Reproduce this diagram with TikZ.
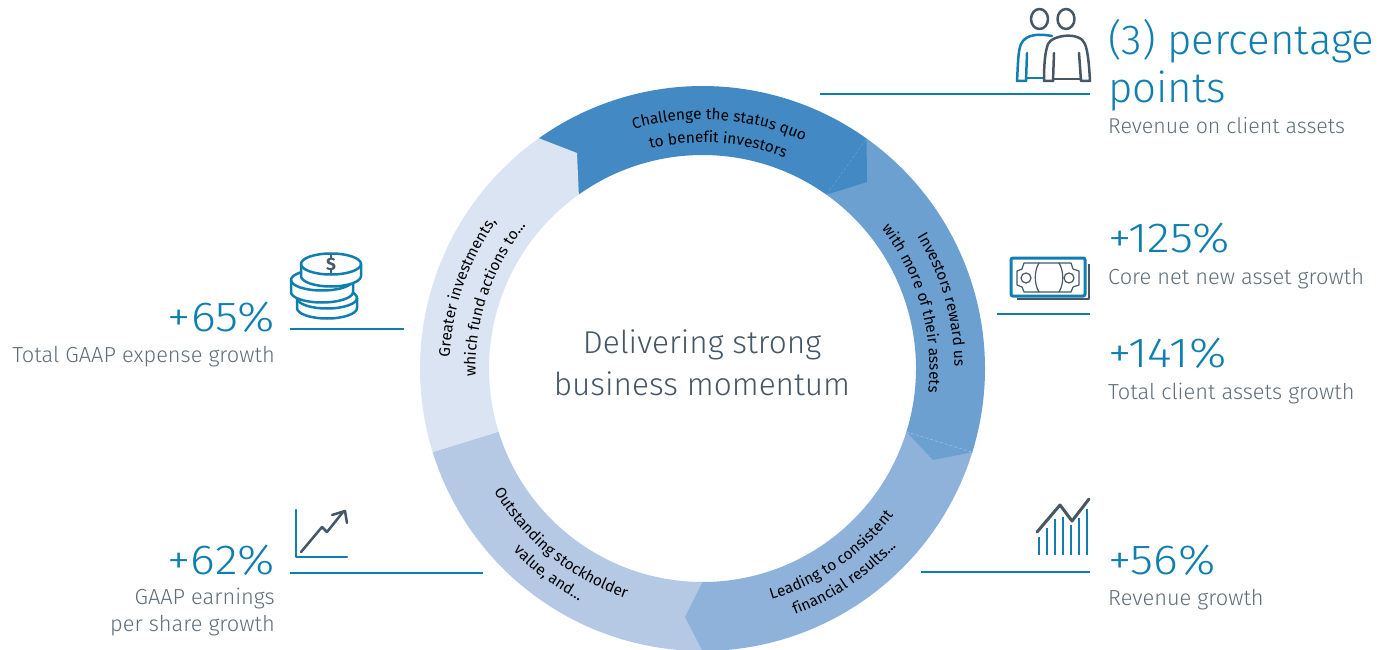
\documentclass[tikz,border=0pt]{standalone}
\usepackage{fontspec}
\setmainfont{Fira Sans Light}[BoldFont={Fira Sans}]
\newfontfamily\ringfont{Fira Sans}
\newfontfamily\numfont{Fira Sans Light}[FakeStretch=1.12]
\usetikzlibrary{decorations.text}
\definecolor{teal1}{HTML}{0F7FB0}
\definecolor{slate1}{HTML}{465766}
\definecolor{gray1}{HTML}{5F6E79}
\definecolor{segA}{HTML}{4389C3}
\definecolor{segB}{HTML}{6BA0D1}
\definecolor{segC}{HTML}{8FB2DA}
\definecolor{segD}{HTML}{B5C9E5}
\definecolor{segE}{HTML}{DBE4F3}
\tikzset{
  bignum/.style={text=teal1,font=\fontsize{42}{46}\selectfont,inner sep=0pt,anchor=base west},
  pctnum/.style={bignum,font=\numfont\fontsize{42}{46}\selectfont},
  pctnumr/.style={pctnum,anchor=base east},
  sublab/.style={text=gray1,font=\fontsize{21.8}{26}\selectfont,inner sep=0pt,anchor=base west},
  sublabr/.style={sublab,anchor=base east},
  rule/.style={draw=teal1,line width=2.5pt},
  iconb/.style={draw=teal1,line width=2.5pt,line join=round,line cap=round},
  icond/.style={draw=slate1,line width=2.5pt,line join=round,line cap=round},
  ringtext/.style={decorate,decoration={text along path,text align=center,text={|\ringfont\fontsize{15.4}{17}\selectfont|#1}}},
  seam/.style={draw=white,draw opacity=.2,line width=.5pt,densely dashed}
}
\begin{document}
\begin{tikzpicture}[x=1pt,y=1pt]
\useasboundingbox (0,0) rectangle (1388,649);
\fill[white] (0,0) rectangle (1388,649);
% ring
\begin{scope}[shift={(702.5,280.5)}]
\def\Ro{282.5}\def\Ri{213.5}
\fill[segD] (-90:\Ro) arc[start angle=-90,end angle=-162.8,radius=\Ro] -- (197.2:\Ri) arc[start angle=-162.8,end angle=-90,radius=\Ri] -- cycle;
\fill[segC] (-17.25:\Ro) arc[start angle=-17.25,end angle=-90,radius=\Ro] -- (-17.5,-248.5) -- (-90:\Ri) arc[start angle=-90,end angle=-17.25,radius=\Ri] -- cycle;
\fill[segB] (54.5:\Ro) arc[start angle=54.5,end angle=-17.25,radius=\Ro] -- (230.5,-91.5) -- (-17.25:\Ri) arc[start angle=-17.25,end angle=54.5,radius=\Ri] -- cycle;
\fill[segA] (125.4:\Ro) arc[start angle=125.4,end angle=54.5,radius=\Ro] -- (164.5,186.5) -- (54.5:\Ri) arc[start angle=54.5,end angle=125.4,radius=\Ri] -- cycle;
\fill[segE] (197.2:\Ro) arc[start angle=197.2,end angle=125.4,radius=\Ro] -- (-125.5,215.5) -- (125.4:\Ri) arc[start angle=125.4,end angle=197.2,radius=\Ri] -- cycle;
\draw[seam] (54.5:\Ri) -- (54.5:\Ro);
\draw[seam,draw opacity=.4] (-17.25:\Ri) -- (-17.25:\Ro);
% curved texts
\path[ringtext={Challenge the status quo}] (110:249) arc[start angle=110,end angle=62,radius=249];
\path[ringtext={to benefit investors}] (110:226) arc[start angle=110,end angle=62,radius=226];
\path[ringtext={Investors reward us}] (50:252) arc[start angle=50,end angle=-18,radius=252];
\path[ringtext={with more of their assets}] (52:227) arc[start angle=52,end angle=-20,radius=227];
\path[ringtext={Leading to consistent}] (-90.5:241) arc[start angle=-90.5,end angle=-20.5,radius=241];
\path[ringtext={financial results...}] (-91:263) arc[start angle=-91,end angle=-21,radius=263];
\path[ringtext={Outstanding stockholder}] (195:242) arc[start angle=195,end angle=267,radius=242];
\path[ringtext={value, and...}] (198:263) arc[start angle=198,end angle=268,radius=263];
\path[ringtext={Greater investments,}] (196:253) arc[start angle=196,end angle=126,radius=253];
\path[ringtext={which fund actions to...}] (196.5:227) arc[start angle=196.5,end angle=126.5,radius=227];
\end{scope}
% centre
\node[text=slate1,font=\fontsize{31.6}{42}\selectfont,align=center,inner sep=0pt,anchor=base] (ctitle) at (702,295.5) {Delivering strong};
\node[text=slate1,font=\fontsize{31.6}{42}\selectfont,align=center,inner sep=0pt,anchor=base] (ctitleb) at (702,254) {business momentum};
% right labels
\node[bignum] (n3) at (1108,594) {(3) percentage};
\node[bignum] (n3b) at (1108,546) {points};
\node[sublab,font=\fontsize{21.4}{26}\selectfont] (s3) at (1108,515) {Revenue on client assets};
\node[pctnum] (n125) at (1108,397) {+125\%};
\node[sublab] (s125) at (1108,365) {Core net new asset growth};
\node[pctnum] (n141) at (1108,282) {+141\%};
\node[sublab] (s141) at (1108,250) {Total client assets growth};
\node[pctnum] (n56) at (1108,75) {+56\%};
\node[sublab] (s56) at (1108,44) {Revenue growth};
% left labels
\node[pctnumr] (n65) at (275,318) {+65\%};
\node[sublabr] (s65) at (275,287) {Total GAAP expense growth};
\node[pctnumr] (n62) at (275,75) {+62\%};
\node[sublabr] (s62) at (275,45) {GAAP earnings};
\node[sublabr] (s62b) at (275,18) {per share growth};
% rules
\coordinate (ra1) at (820,555); \coordinate (ra2) at (1090,555);
\coordinate (rb1) at (997,335); \coordinate (rb2) at (1090,335);
\coordinate (rc1) at (290,320); \coordinate (rc2) at (404,320);
\coordinate (rd1) at (290,76); \coordinate (rd2) at (483,76);
\coordinate (re1) at (921,77); \coordinate (re2) at (1090,77);
\draw[rule] (ra1) -- (ra2);
\draw[rule] (rb1) -- (rb2);
\draw[rule] (rc1) -- (rc2);
\draw[rule] (rd1) -- (rd2);
\draw[rule] (re1) -- (re2);
% people icon (y = 649 - py)
\draw[iconb] (1052,613) .. controls (1042,615) and (1026,616) .. (1021,605) .. controls (1018,598) and (1018,585) .. (1017,568) -- (1026,568) -- (1027,596);
\draw[iconb] (1026,571) -- (1043,571);
\draw[icond] (1039.5,630) ellipse[x radius=8.5,y radius=10];
\draw[icond] (1066,630) ellipse[x radius=8.5,y radius=10];
\draw[icond] (1053,568) -- (1044,568) .. controls (1044,585) and (1045,597) .. (1048,605) .. controls (1052,614) and (1080,618) .. (1085,605) .. controls (1088,597) and (1089,585) .. (1090,568) -- (1081,568) -- (1079,596);
\draw[icond] (1053,568) -- (1054,596);
\draw[icond] (1053,570) -- (1081,570);
% money icon
\draw[icond,line width=2.4pt,line cap=butt] (1017,350) -- (1089,350) -- (1089,385);
\draw[draw=teal1,line width=3pt,rounded corners=2pt] (1011,353) rectangle (1085,391);
\draw[icond,line width=1.2pt] (1024,386) -- (1071,386) -- (1073,380) -- (1079,378) -- (1079,364) -- (1073,362) -- (1071,357) -- (1024,357) -- (1022,362) -- (1017,364) -- (1017,378) -- (1022,380) -- cycle;
\draw[icond,line width=1.2pt] (1026,371) circle[radius=5];
\draw[icond,line width=1.2pt] (1069,371) circle[radius=5];
\draw[icond,line width=1.2pt] (1039,386) .. controls (1034,378) and (1034,365) .. (1039,357);
\draw[icond,line width=1.2pt] (1059,386) .. controls (1064,378) and (1064,365) .. (1059,357);
% coins icon
\def\coinpath#1#2#3#4{%
  \draw[iconb,fill=white] (#1-#3,#2) -- (#1-#3,#2-#4) arc[start angle=180,end angle=360,x radius=#3,y radius=10.5] -- (#1+#3,#2) arc[start angle=0,end angle=180,x radius=#3,y radius=10.5] -- cycle;
  \draw[iconb] (#1-#3,#2) arc[start angle=180,end angle=360,x radius=#3,y radius=10.5];}
\coinpath{327}{351}{30}{10}
\coinpath{322}{369}{31}{12}
\coinpath{331}{385}{30}{12}
\node[text=slate1,inner sep=0pt,font=\ringfont\bfseries\fontsize{18}{18}\selectfont] (dollar) at (331,385) {\$};
% chart icon
\draw[iconb] (296,139) -- (296,92) -- (347,92);
\draw[icond] (301,97) -- (322,122) -- (327,117) -- (343,137);
\draw[icond] (332,134) -- (345,138) -- (347,126);
% bars icon
\foreach \bx/\by in {1039/112,1047/121,1055/130,1063/132,1071/124,1079/131,1087/140}
  \draw[teal1,line width=2.6pt] (\bx,94) -- (\bx,\by);
\draw[icond,line width=3pt] (1037,117) -- (1060,144) -- (1072,128) -- (1089,150);
\end{tikzpicture}
\end{document}
